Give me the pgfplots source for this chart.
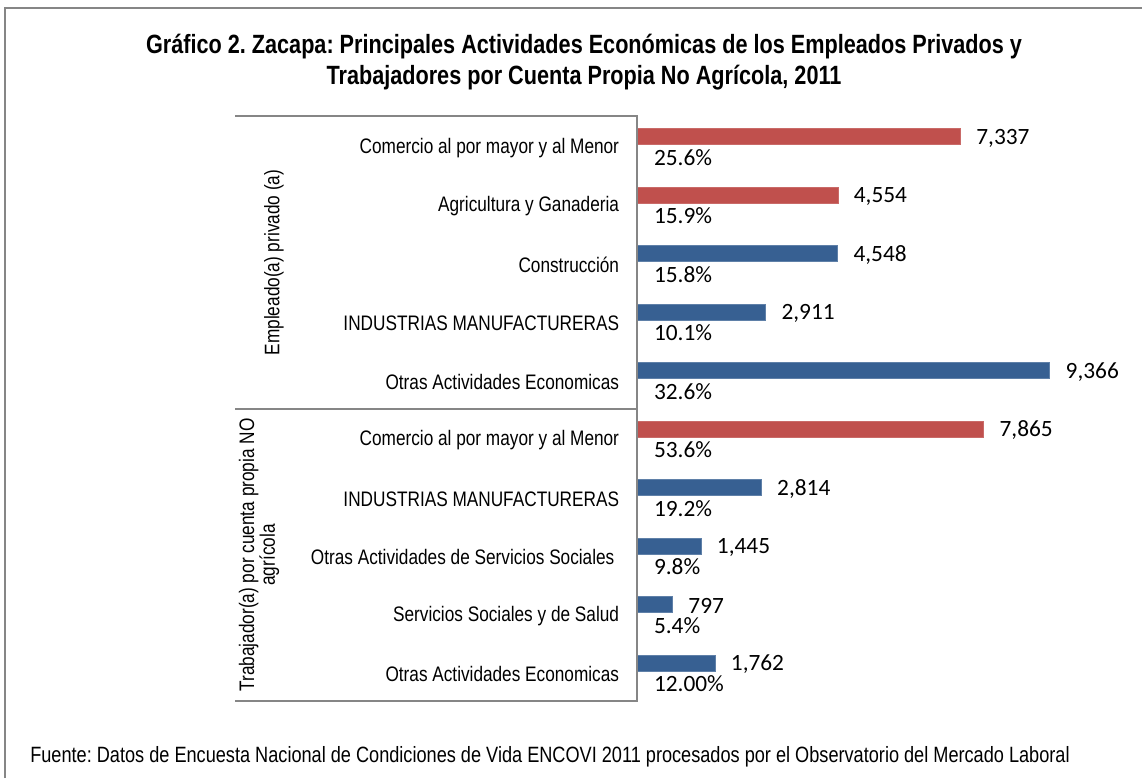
\documentclass[border=0pt]{standalone}
\usepackage{pgfplots}
\pgfplotsset{compat=1.18}
\usepackage{fontspec}
\setmainfont{Liberation Sans}[FakeStretch=0.82]
\newfontfamily\valfont{Carlito}
\definecolor{barred}{HTML}{C0504D}
\definecolor{barblue}{HTML}{376092}
\definecolor{framegray}{HTML}{868686}
\frenchspacing
\begin{document}
\begin{tikzpicture}
\begin{scope}[x=0.75pt,y=-0.75pt]
\useasboundingbox (0,0) rectangle (1142,778);
% outer frame
\draw[framegray, line width=1.5pt] (5,778) -- (5,8) -- (1142,8);
% title
\node[align=center, font=\fontsize{19.8}{23.25}\selectfont\bfseries] at (584,62)
  {Gráfico 2. Zacapa: Principales Actividades Económicas de los Empleados Privados y\\
   Trabajadores por Cuenta Propia No Agrícola, 2011};
\end{scope}
\begin{axis}[
  at={(477.975pt,-525.75pt)}, anchor=south west,
  scale only axis, width=346.7pt, height=438.75pt,
  xmin=0, xmax=10500, ymin=-0.5, ymax=9.5, y dir=reverse,
  clip=false,
  axis x line=none,
  axis y line=left,
  y axis line style={draw=none, -},
  ytick={0,...,9},
  yticklabels={Comercio al por mayor y al Menor, Agricultura y Ganaderia, Construcción, INDUSTRIAS MANUFACTURERAS, Otras Actividades Economicas, Comercio al por mayor y al Menor, INDUSTRIAS MANUFACTURERAS, {Otras Actividades de Servicios Sociales\kern3.5pt}, Servicios Sociales y de Salud, Otras Actividades Economicas},
  yticklabel style={font=\fontsize{15.75}{18}\selectfont, anchor=east, inner sep=0pt, xshift=-13.5pt, yshift=-2pt},
  major tick length=0pt,
  xtick=\empty,
  /pgf/bar width=12pt,
  nodes near coords style={font=\valfont\fontsize{17.5}{19}\selectfont, text=black},
]
\addplot[xbar, bar shift=6.5pt, fill=barred, draw=barred!85!white,
  nodes near coords={\pgfmathprintnumber[assume math mode=true, 1000 sep={,}]{\pgfplotspointmeta}},
  point meta=x,
  nodes near coords align={anchor=west}, every node near coord/.append style={xshift=8.5pt, yshift=5.5pt}]
  coordinates {(7337,0) (4554,1) (7865,5)};
\addplot[xbar, bar shift=6.5pt, fill=barblue, draw=barblue!80!white,
  nodes near coords={\pgfmathprintnumber[assume math mode=true, 1000 sep={,}]{\pgfplotspointmeta}},
  point meta=x,
  nodes near coords align={anchor=west}, every node near coord/.append style={xshift=8.5pt, yshift=5.5pt}]
  coordinates {(4548,2) (2911,3) (9366,4) (2814,6) (1445,7) (797,8) (1762,9)};
\addplot[draw=none, mark=none, nodes near coords, point meta=explicit symbolic,
  every node near coord/.append style={anchor=west, xshift=9pt, yshift=-9pt}]
  table[meta=label] {
x y label
0 0 25.6\%
0 1 15.9\%
0 2 15.8\%
0 3 10.1\%
0 4 32.6\%
0 5 53.6\%
0 6 19.2\%
0 7 9.8\%
0 8 5.4\%
0 9 12.00\%
};
\end{axis}
\begin{scope}[x=0.75pt,y=-0.75pt]
% category box lines
\draw[framegray, line width=1.5pt] (235,116) -- (637.3,116) -- (637.3,701) -- (235,701);
\draw[framegray, line width=1.5pt] (235,409) -- (637.3,409);
% group labels
\node[rotate=90, font=\fontsize{15.75}{18}\selectfont] at (274,262.5) {Empleado(a) privado (a)};
\node[rotate=90, align=center, font=\fontsize{15.75}{19.5}\selectfont] at (259,555) {Trabajador(a) por cuenta propia NO\\[-4pt]agrícola};
% footer
\node[anchor=west, inner sep=0pt, font=\fontsize{16.6}{18}\selectfont] at (30,757) {Fuente: Datos de Encuesta Nacional de Condiciones de Vida ENCOVI 2011 procesados por el Observatorio del Mercado Laboral};
\end{scope}
\end{tikzpicture}
\end{document}
